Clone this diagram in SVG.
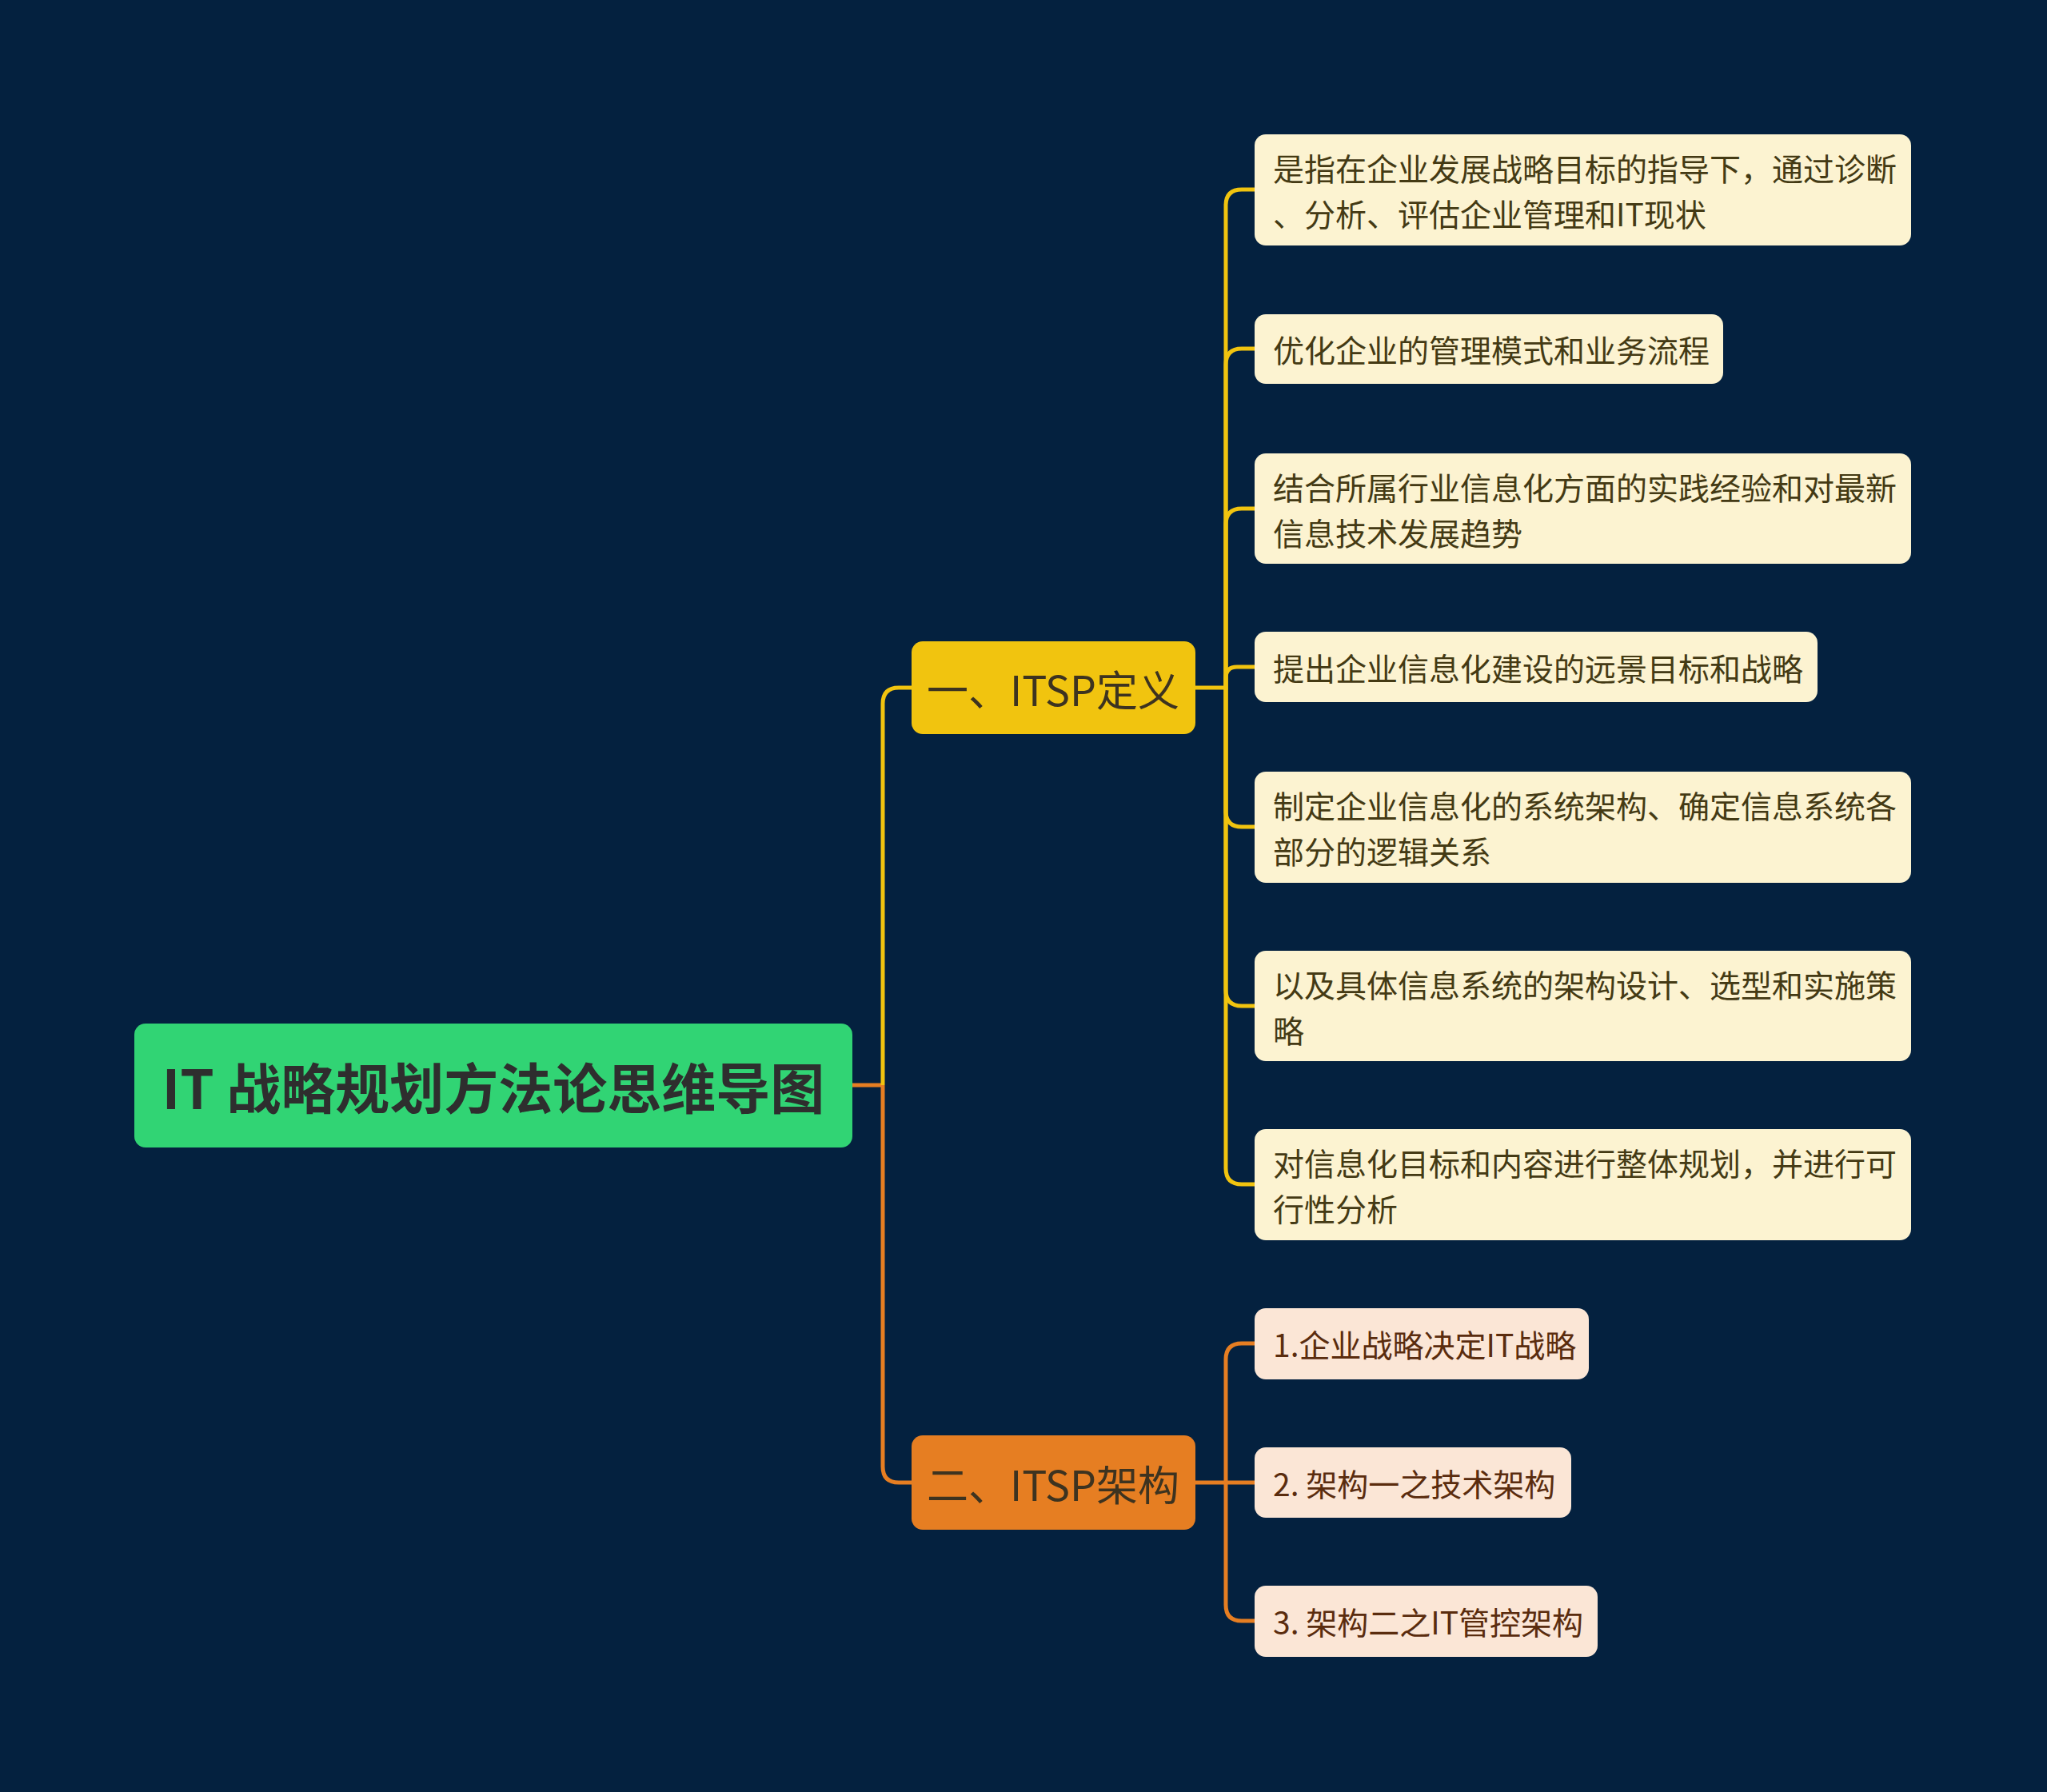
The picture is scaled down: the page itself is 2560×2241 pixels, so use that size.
<svg xmlns="http://www.w3.org/2000/svg" width="2560" height="2241" viewBox="0 0 2560 2241">
<style>
.t{font-family:"Noto Sans CJK SC","Noto Sans",sans-serif;dominant-baseline:central}
.root{font-size:68px;font-weight:700;fill:#2e2e2e}
.br{font-size:52px;fill:#3d3320}
.c1{font-size:39px;fill:#443a14}
.c2{font-size:39px;fill:#5a2c0e}
.y{fill:none;stroke:#f1c40f;stroke-width:5}
.o{fill:none;stroke:#e67e22;stroke-width:5}
.b1{fill:#fcf3d1}
.b2{fill:#fbe6d6}
</style>
<rect width="2560" height="2241" fill="#04213f"/>
<g id="connectors">
<path class="o" d="M1066,1357 H1104"/>
<path class="y" d="M1104,1357 V880 Q1104,860 1124,860 H1140"/>
<path class="o" d="M1104,1357 V1834 Q1104,1854 1124,1854 H1140"/>
<path class="y" d="M1495,860 H1533 V257 Q1533,237 1553,237 H1569"/>
<path class="y" d="M1533,860 V456 Q1533,436 1553,436 H1569"/>
<path class="y" d="M1533,860 V656 Q1533,636 1553,636 H1569"/>
<path class="y" d="M1533,860 V848 Q1533,834 1547,834 H1569"/>
<path class="y" d="M1533,860 V1014 Q1533,1034 1553,1034 H1569"/>
<path class="y" d="M1533,860 V1238 Q1533,1258 1553,1258 H1569"/>
<path class="y" d="M1533,860 V1461 Q1533,1481 1553,1481 H1569"/>
<path class="o" d="M1495,1854 H1569"/>
<path class="o" d="M1533,1854 V1700 Q1533,1680 1553,1680 H1569"/>
<path class="o" d="M1533,1854 V2007 Q1533,2027 1553,2027 H1569"/>
</g>
<g id="root">
<rect x="168" y="1280" width="898" height="155" rx="14" fill="#31d474"/>
<text class="t root" x="617" y="1357" text-anchor="middle">IT 战略规划方法论思维导图</text>
</g>
<g id="branch1">
<rect x="1140" y="802" width="355" height="116" rx="14" fill="#f1c40f"/>
<text class="t br" x="1317" y="860" text-anchor="middle">一、ITSP定义</text>
</g>
<g id="branch2">
<rect x="1140" y="1795" width="355" height="118" rx="14" fill="#e67e22"/>
<text class="t br" x="1317" y="1854" text-anchor="middle">二、ITSP架构</text>
</g>
<g id="n1">
<rect class="b1" x="1569" y="168" width="821" height="139" rx="14"/>
<text class="t c1" x="1592" y="209">是指在企业发展战略目标的指导下，通过诊断<tspan x="1592" dy="57">、分析、评估企业管理和IT现状</tspan></text>
</g>
<g id="n2">
<rect class="b1" x="1569" y="393" width="586" height="87" rx="14"/>
<text class="t c1" x="1592" y="436">优化企业的管理模式和业务流程</text>
</g>
<g id="n3">
<rect class="b1" x="1569" y="567" width="821" height="138" rx="14"/>
<text class="t c1" x="1592" y="607.5">结合所属行业信息化方面的实践经验和对最新<tspan x="1592" dy="57">信息技术发展趋势</tspan></text>
</g>
<g id="n4">
<rect class="b1" x="1569" y="790" width="704" height="88" rx="14"/>
<text class="t c1" x="1592" y="834">提出企业信息化建设的远景目标和战略</text>
</g>
<g id="n5">
<rect class="b1" x="1569" y="965" width="821" height="139" rx="14"/>
<text class="t c1" x="1592" y="1006">制定企业信息化的系统架构、确定信息系统各<tspan x="1592" dy="57">部分的逻辑关系</tspan></text>
</g>
<g id="n6">
<rect class="b1" x="1569" y="1189" width="821" height="138" rx="14"/>
<text class="t c1" x="1592" y="1229.5">以及具体信息系统的架构设计、选型和实施策<tspan x="1592" dy="57">略</tspan></text>
</g>
<g id="n7">
<rect class="b1" x="1569" y="1412" width="821" height="139" rx="14"/>
<text class="t c1" x="1592" y="1453">对信息化目标和内容进行整体规划，并进行可<tspan x="1592" dy="57">行性分析</tspan></text>
</g>
<g id="n8">
<rect class="b2" x="1569" y="1636" width="418" height="89" rx="14"/>
<text class="t c2" x="1592" y="1680">1.企业战略决定IT战略</text>
</g>
<g id="n9">
<rect class="b2" x="1569" y="1810" width="396" height="88" rx="14"/>
<text class="t c2" x="1592" y="1854">2. 架构一之技术架构</text>
</g>
<g id="n10">
<rect class="b2" x="1569" y="1983" width="429" height="89" rx="14"/>
<text class="t c2" x="1592" y="2027">3. 架构二之IT管控架构</text>
</g>
</svg>
